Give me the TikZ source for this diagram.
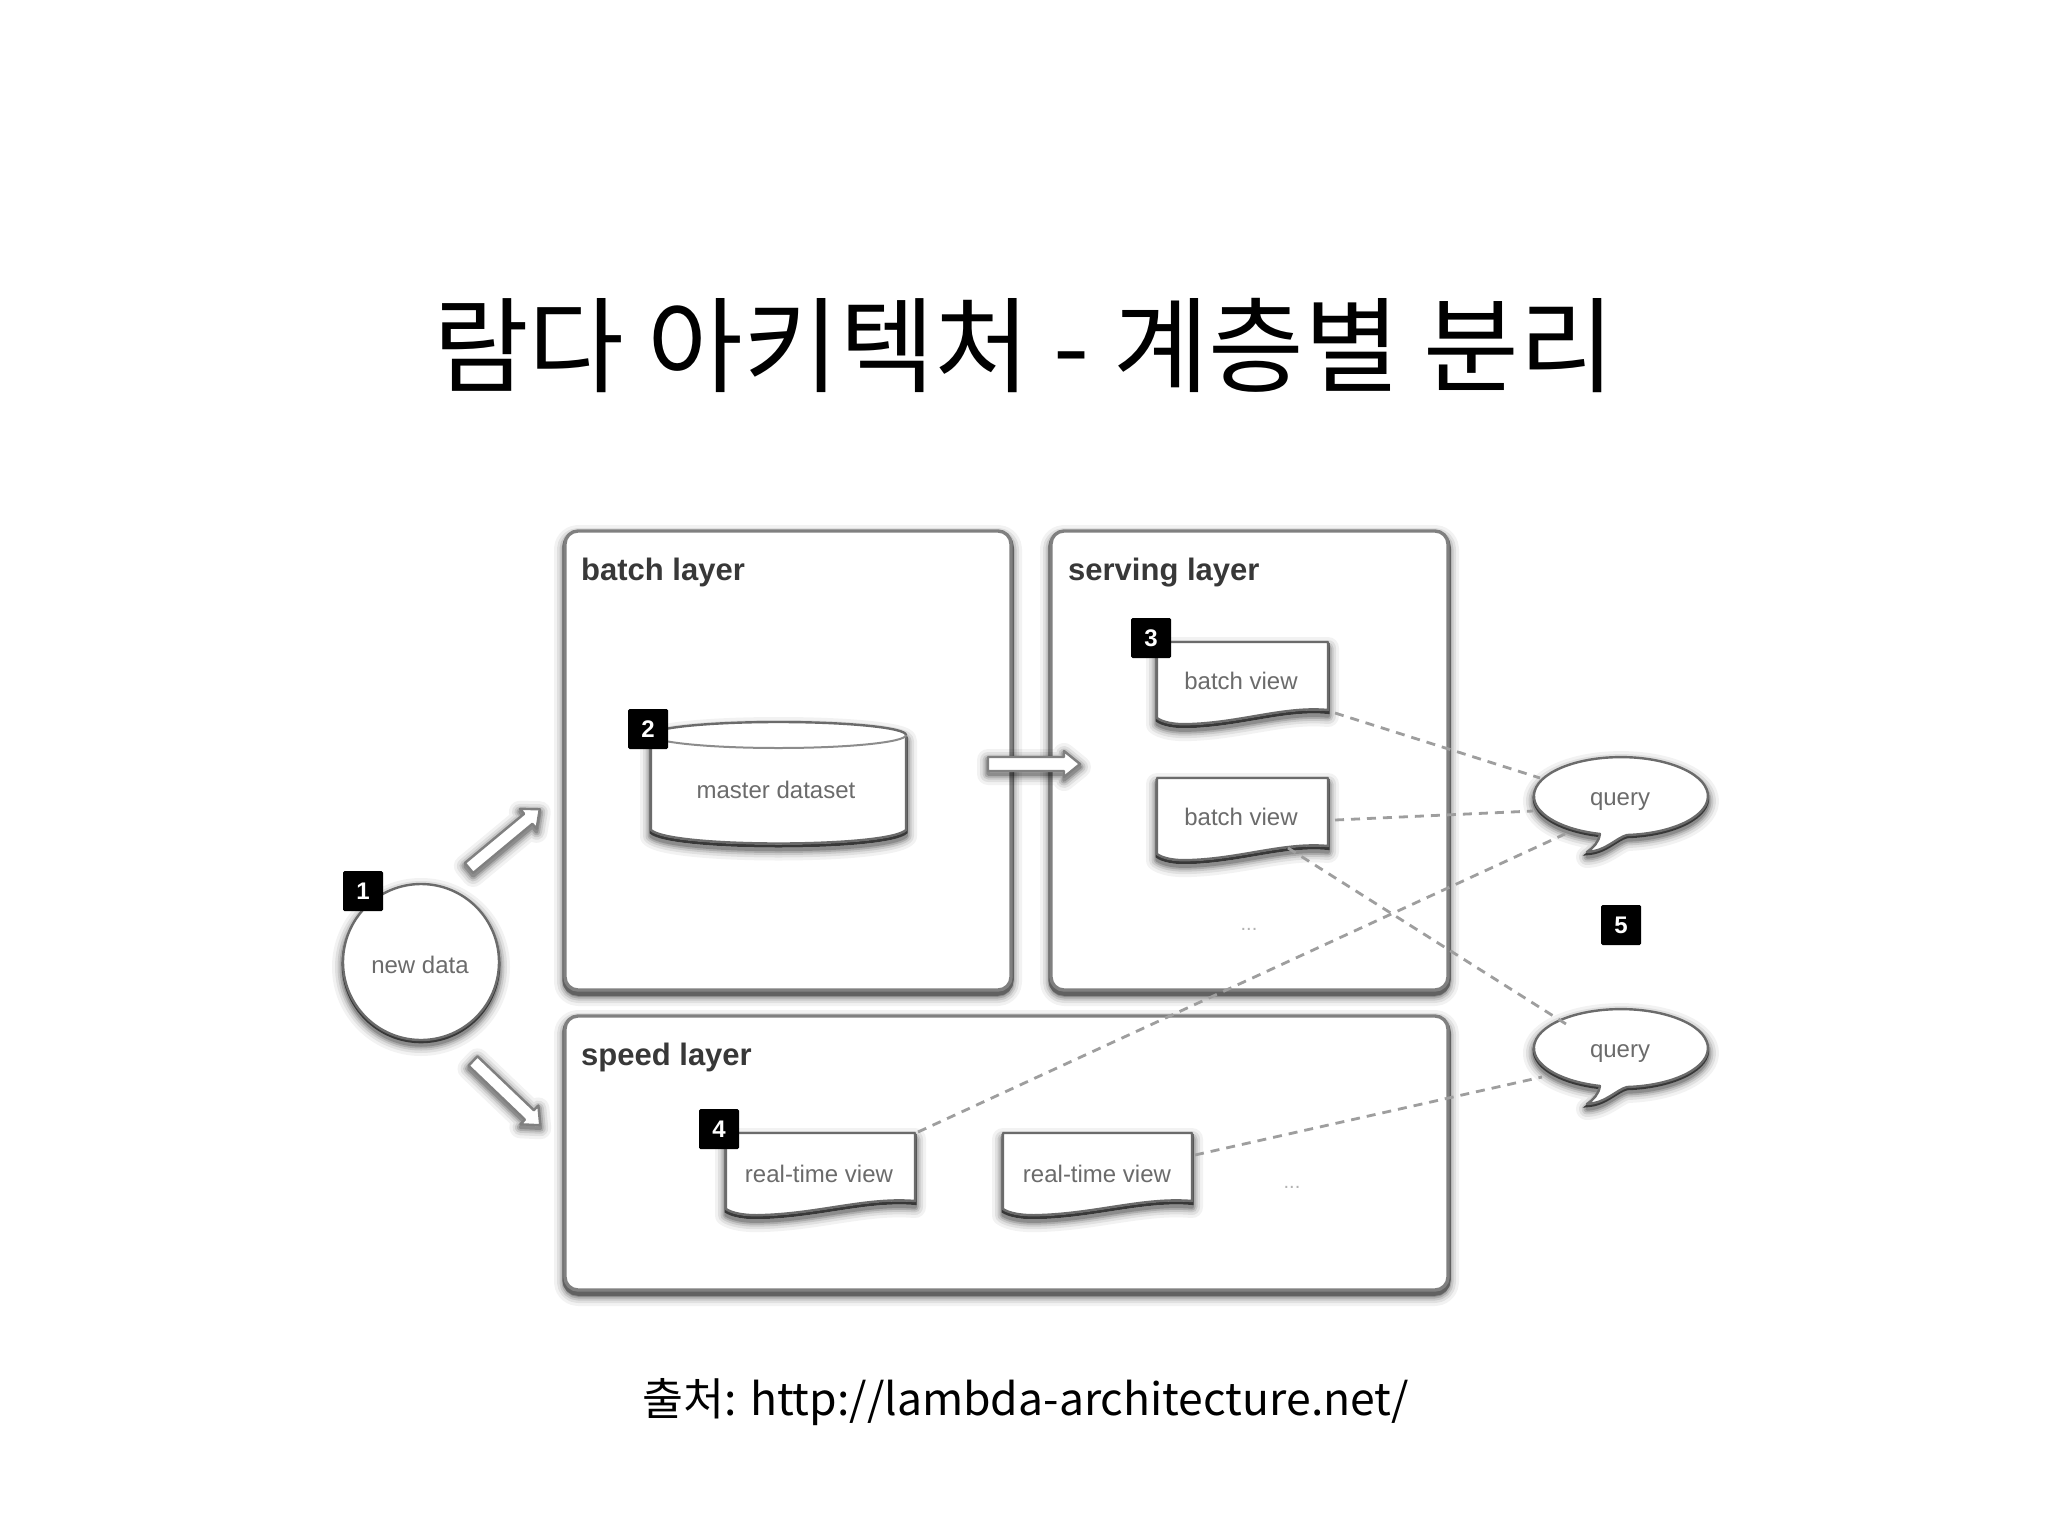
\documentclass[tikz,border=0pt]{standalone}
\usepackage{fontspec}
\setmainfont{Liberation Sans}
\newfontfamily\krfont{Noto Sans CJK KR}
\usetikzlibrary{calc}
\tikzset{
  softshadow/.style={
    preaction={draw=black,draw opacity=.05,line width=22pt,line join=round,transform canvas={yshift=-#1}},
    preaction={draw=black,draw opacity=.07,line width=16pt,line join=round,transform canvas={yshift=-#1}},
    preaction={draw=black,draw opacity=.10,line width=11pt,line join=round,transform canvas={yshift=-#1}},
    preaction={draw=black,draw opacity=.14,line width=7pt,line join=round,transform canvas={yshift=-#1}},
    preaction={draw=black,draw opacity=.18,line width=3.5pt,line join=round,transform canvas={yshift=-#1}},
  },
  outline/.style={draw=black!58,line width=2.4pt,fill=white,line join=round},
  boxshape/.style={outline,rounded corners=13pt,line width=3.4pt,draw=black!50,softshadow=5pt,
    preaction={draw=black!62,line width=5.5pt,rounded corners=13pt,transform canvas={yshift=-3pt}}},
  docshape/.style={outline,softshadow=6pt,
    preaction={draw=black!78,line width=3pt,transform canvas={yshift=-2.5pt}}},
  roundshape/.style={outline,softshadow=5pt,
    preaction={draw=black!78,line width=2.6pt,transform canvas={yshift=-2pt}}},
  arrowshape/.style={draw=black!50,line width=2.4pt,fill=white,line join=round,softshadow=3pt},
  linklabel/.style={dash pattern=on 9pt off 7pt,draw=black!38,line width=2.8pt},
  badge/.style={fill=black,text=white,minimum size=40pt,inner sep=0pt,rounded corners=1.5pt,
    font=\fontsize{24}{24}\selectfont\bfseries},
  grouptitle/.style={anchor=base west,inner sep=0pt,text=black!78,font=\fontsize{31}{31}\selectfont\bfseries},
  inner text/.style={inner sep=0pt,text=black!58,font=\fontsize{24}{24}\selectfont},
  dots text/.style={inner sep=0pt,text=black!30,font=\fontsize{20}{20}\selectfont},
}
\newcommand{\docoutline}{(0,0) -- (1,0) -- (1,68) .. controls (0.75,64) and (0.5,80) .. (0.2,82) .. controls (0.1,83) and (0.03,80) .. (0,76) -- cycle}
\newcommand{\bubbleoutline}{(6,39) arc[start angle=86,end angle=-256,x radius=87,y radius=39] .. controls (-22,46) and (-28,52) .. (-34,56) .. controls (-15,55) and (-5,42) .. (6,39) -- cycle}
\newcommand{\blockoutline}[3]{(0,-#2) -- ({#1-#3},-#2) -- ({#1-#3},-13) -- (#1,0) -- ({#1-#3},13) -- ({#1-#3},#2) -- (0,#2) -- cycle}
\begin{document}
\begin{tikzpicture}[x=1pt,y=-1pt]
\useasboundingbox (0,0) rectangle (2048,1536);
\fill[white] (0,0) rectangle (2048,1536);

% title and source
\node[inner sep=0pt,anchor=center] (title) at (1024,345)
  {\krfont\fontsize{104}{104}\selectfont 람다 아키텍처 - 계층별 분리};
\node[inner sep=0pt,anchor=center] (source) at (1026,1402)
  {\krfont\fontsize{44.5}{44.5}\selectfont 출처: http://lambda-architecture.net/};

% layers
\draw[boxshape] (565,531) rectangle (1011,990);
\draw[boxshape] (1051,531) rectangle (1448,990);
\draw[boxshape] (565,1016) rectangle (1448,1290);
\node[grouptitle] (batchtitle) at (581,580) {batch layer};
\node[grouptitle] (servingtitle) at (1068,580) {serving layer};
\node[grouptitle] (speedtitle) at (581,1065) {speed layer};

% master dataset
\draw[docshape] (651,735) -- (651,830) .. controls (670,848) and (887,848) .. (906,830) -- (906,735)
   arc[start angle=0,end angle=-180,x radius=127.5,y radius=13] -- cycle;
\draw[draw=black!45,line width=2pt] (651,735) arc[start angle=180,end angle=0,x radius=127.5,y radius=13];
\node[inner text] (master) at (776,790) {master dataset};

% documents
\begin{scope}[shift={(1157,642)},x=171pt]
  \draw[docshape] \docoutline;
\end{scope}
\begin{scope}[shift={(1157,778)},x=171pt]
  \draw[docshape] \docoutline;
\end{scope}
\begin{scope}[shift={(726,1133)},x=189pt]
  \draw[docshape] \docoutline;
\end{scope}
\begin{scope}[shift={(1003,1133)},x=189pt]
  \draw[docshape] \docoutline;
\end{scope}
\node[inner text] (view1) at (1241,681) {batch view};
\node[inner text] (view2) at (1241,817) {batch view};
\node[inner text] (rt1) at (819,1174) {real-time view};
\node[inner text] (rt2) at (1097,1174) {real-time view};
\node[dots text] (dots1) at (1249,929) {...};
\node[dots text] (dots2) at (1292,1187) {...};

% new data
\draw[roundshape] (421,962) circle[radius=78];
\node[inner text] (newdata) at (420,965) {new data};

% query bubbles
\begin{scope}[shift={(1621,796)}]
  \draw[roundshape] \bubbleoutline;
\end{scope}
\begin{scope}[shift={(1621,1048)}]
  \draw[roundshape] \bubbleoutline;
\end{scope}
\node[inner text] (query1) at (1620,802) {query};
\node[inner text] (query2) at (1620,1054) {query};

% block arrows
\begin{scope}[shift={(469,868)},rotate=39.7]
  \draw[arrowshape] \blockoutline{92}{6.5}{15};
\end{scope}
\begin{scope}[shift={(473,1061)},rotate=-43.7]
  \draw[arrowshape] \blockoutline{93}{6.5}{15};
\end{scope}
\begin{scope}[shift={(988,764)}]
  \draw[arrowshape] \blockoutline{92}{7}{16};
\end{scope}

% dashed links
\coordinate (v1out) at (1335,713);
\coordinate (q1a) at (1540,778);
\coordinate (v2out) at (1335,820);
\coordinate (q1b) at (1533,811);
\coordinate (v2low) at (1288,848);
\coordinate (q2a) at (1566,1024);
\coordinate (rt1out) at (918,1132);
\coordinate (q1c) at (1565,834);
\coordinate (rt2out) at (1195,1155);
\coordinate (q2b) at (1542,1077);
\draw[linklabel] (v1out) -- (q1a);
\draw[linklabel] (v2out) -- (q1b);
\draw[linklabel] (v2low) -- (q2a);
\draw[linklabel] (rt1out) -- (q1c);
\draw[linklabel] (rt2out) -- (q2b);

% badges
\node[badge] (b1) at (363,891) {1};
\node[badge] (b2) at (648,729) {2};
\node[badge] (b3) at (1151,638) {3};
\node[badge] (b4) at (719,1129) {4};
\node[badge] (b5) at (1621,925) {5};
\end{tikzpicture}
\end{document}
